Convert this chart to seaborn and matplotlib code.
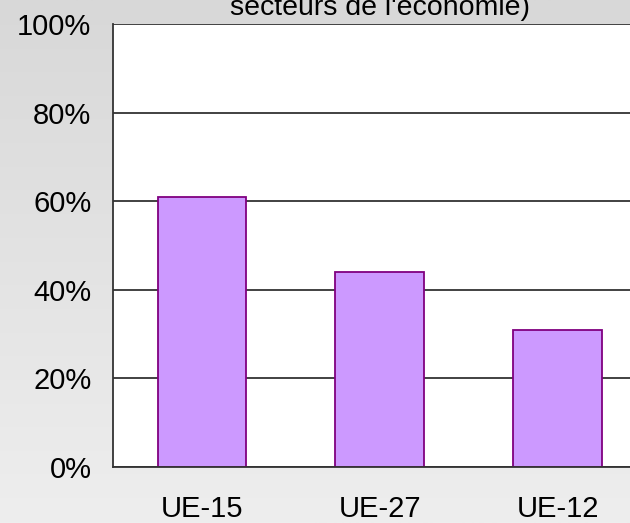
import numpy as np
import matplotlib
matplotlib.use('Agg')
import matplotlib.pyplot as plt
from matplotlib.colors import LinearSegmentedColormap
from matplotlib.ticker import PercentFormatter, FixedLocator
import seaborn as sns

# data
categories = ['UE-15', 'UE-27', 'UE-12']
values = [0.61, 0.44, 0.31]
title_line = "secteurs de l'économie)"

sns.set_style('white')
plt.rcParams['font.family'] = ['Liberation Sans', 'DejaVu Sans']

fig = plt.figure(figsize=(6.3, 5.23), dpi=100)

# grey gradient background behind everything
bg = fig.add_axes([0, 0, 1, 1], zorder=-10)
grad = LinearSegmentedColormap.from_list('bg', ['#eeeeee', '#d8d8d8'])
bg.imshow(np.linspace(0, 1, 256)[:, None], cmap=grad, aspect='auto',
          origin='lower', extent=[0, 1, 0, 1])
bg.axis('off')

ax = fig.add_axes([113 / 630, 56 / 523, 534 / 630, 443 / 523])
ax.set_facecolor('white')

sns.barplot(x=categories, y=values, color='#cc99ff', edgecolor='#800080',
            linewidth=1.3, width=0.5, saturation=1, ax=ax)

ax.set_ylim(0, 1)
ax.set_xlim(-0.5, 2.5)
ax.yaxis.set_major_locator(FixedLocator([0, 0.2, 0.4, 0.6, 0.8, 1.0]))
ax.yaxis.set_major_formatter(PercentFormatter(1.0, decimals=0))
ax.set_axisbelow(True)
ax.yaxis.grid(True, color='#333333', linewidth=1.3)

for side in ['top', 'right']:
    ax.spines[side].set_visible(False)
for side in ['left', 'bottom']:
    ax.spines[side].set_color('#333333')
    ax.spines[side].set_linewidth(1.3)

# ticks between categories, labels at the centres
ax.set_xticks([-0.5, 0.5, 1.5, 2.5], minor=True)
ax.tick_params(axis='x', which='minor', length=7, width=1.3, color='#333333',
               direction='out')
ax.tick_params(axis='x', which='major', length=0, pad=20, labelsize=21,
               labelcolor='black')
ax.tick_params(axis='y', length=0, pad=15.5, labelsize=21,
               labelcolor='black')
ax.set_xlabel('')
ax.set_ylabel('')

fig.text(380 / 630, 1 - 15 / 523, title_line, ha='center', va='baseline',
         fontsize=20.5, color='black')

fig.savefig('out.png', dpi=100)
